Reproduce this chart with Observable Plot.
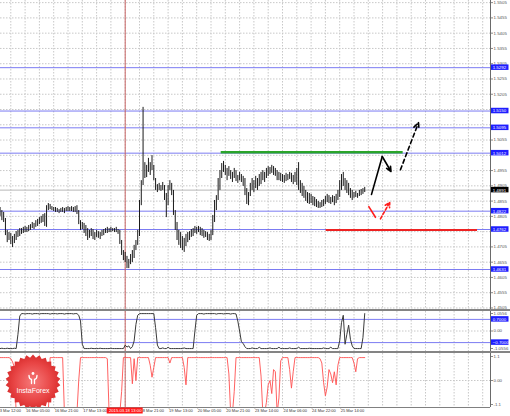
<!DOCTYPE html>
<html><head><meta charset="utf-8">
<script src="https://cdn.jsdelivr.net/npm/d3@7"></script>
<script src="https://cdn.jsdelivr.net/npm/@observablehq/plot@0.6"></script>
<style>
body{margin:0;background:#fff;}
#chart{position:relative;width:510px;height:416px;overflow:hidden;background:#fff;font-family:"Liberation Sans",Arial,sans-serif;}
.sep{position:absolute;left:0;width:510px;height:2px;background:#848484;}
</style></head><body><div id="chart"></div>
<script>
// ---------- DATA ----------
const barStart = 2; // index of first bar (H1 bars, weekends skipped)
const highs = [
1.4834,1.4824,1.4818,1.4798,1.4759,1.4752,1.4749,1.4739,1.4746,1.4755,
1.4759,1.4765,1.4765,1.4769,1.4772,1.4769,1.4775,1.4778,1.4785,1.4782,
1.4791,1.4795,1.4801,1.4805,1.4811,1.4814,1.4840,1.4847,1.4844,1.4837,
1.4834,1.4834,1.4831,1.4827,1.4831,1.4834,1.4831,1.4834,1.4837,1.4834,
1.4837,1.4834,1.4837,1.4840,1.4824,1.4791,1.4785,1.4782,1.4775,1.4765,
1.4759,1.4765,1.4762,1.4752,1.4759,1.4755,1.4752,1.4759,1.4762,1.4765,
1.4769,1.4765,1.4769,1.4765,1.4765,1.4769,1.4762,1.4759,1.4726,1.4693,
1.4687,1.4674,1.4664,1.4680,1.4693,1.4710,1.4726,1.4759,1.4857,1.4922,
1.5162,1.4981,1.4972,1.4995,1.4981,1.5004,1.4972,1.4929,1.4909,1.4913,
1.4906,1.4916,1.4906,1.4880,1.4906,1.4922,1.4913,1.4890,1.4824,1.4785,
1.4759,1.4752,1.4739,1.4733,1.4746,1.4752,1.4755,1.4762,1.4765,1.4772,
1.4769,1.4772,1.4769,1.4765,1.4759,1.4755,1.4752,1.4746,1.4759,1.4808,
1.4857,1.4873,1.4929,1.4955,1.4978,1.4985,1.4972,1.4962,1.4968,1.4955,
1.4949,1.4962,1.4955,1.4939,1.4949,1.4942,1.4936,1.4929,1.4896,1.4883,
1.4913,1.4929,1.4922,1.4936,1.4929,1.4942,1.4949,1.4955,1.4949,1.4962,
1.4968,1.4965,1.4972,1.4968,1.4962,1.4955,1.4949,1.4946,1.4942,1.4939,
1.4946,1.4942,1.4949,1.4946,1.4939,1.4949,1.4962,1.4981,1.4922,1.4913,
1.4903,1.4890,1.4883,1.4880,1.4877,1.4870,1.4867,1.4860,1.4854,1.4850,
1.4857,1.4860,1.4870,1.4877,1.4873,1.4867,1.4873,1.4870,1.4877,1.4890,
1.4922,1.4942,1.4949,1.4929,1.4922,1.4913,1.4896,1.4890,1.4883,1.4887,
1.4880,1.4890,1.4893,1.4896,1.4900];
const lows = [
1.4805,1.4791,1.4785,1.4742,1.4719,1.4726,1.4713,1.4703,1.4716,1.4726,
1.4736,1.4739,1.4746,1.4749,1.4752,1.4752,1.4755,1.4759,1.4765,1.4762,
1.4769,1.4772,1.4778,1.4782,1.4785,1.4772,1.4769,1.4824,1.4827,1.4824,
1.4821,1.4818,1.4818,1.4814,1.4818,1.4818,1.4814,1.4821,1.4821,1.4821,
1.4821,1.4818,1.4818,1.4811,1.4778,1.4759,1.4762,1.4749,1.4739,1.4726,
1.4733,1.4739,1.4729,1.4726,1.4736,1.4733,1.4729,1.4739,1.4742,1.4749,
1.4749,1.4752,1.4752,1.4755,1.4752,1.4752,1.4746,1.4713,1.4677,1.4660,
1.4654,1.4634,1.4634,1.4647,1.4654,1.4667,1.4693,1.4710,1.4739,1.4840,
1.4906,1.4929,1.4932,1.4949,1.4939,1.4955,1.4922,1.4890,1.4883,1.4890,
1.4887,1.4890,1.4857,1.4801,1.4840,1.4890,1.4873,1.4808,1.4759,1.4726,
1.4710,1.4700,1.4693,1.4687,1.4706,1.4719,1.4726,1.4736,1.4739,1.4749,
1.4746,1.4752,1.4742,1.4739,1.4733,1.4736,1.4726,1.4723,1.4726,1.4742,
1.4785,1.4824,1.4857,1.4890,1.4929,1.4949,1.4939,1.4922,1.4936,1.4926,
1.4916,1.4929,1.4919,1.4913,1.4922,1.4916,1.4903,1.4873,1.4844,1.4840,
1.4870,1.4890,1.4883,1.4896,1.4890,1.4903,1.4909,1.4922,1.4916,1.4929,
1.4936,1.4942,1.4946,1.4939,1.4936,1.4922,1.4922,1.4919,1.4916,1.4913,
1.4919,1.4922,1.4926,1.4916,1.4909,1.4916,1.4906,1.4890,1.4880,1.4870,
1.4864,1.4854,1.4847,1.4844,1.4847,1.4840,1.4837,1.4834,1.4831,1.4831,
1.4834,1.4837,1.4844,1.4850,1.4847,1.4844,1.4850,1.4840,1.4847,1.4857,
1.4867,1.4890,1.4903,1.4890,1.4880,1.4873,1.4864,1.4857,1.4864,1.4867,
1.4864,1.4870,1.4873,1.4877,1.4883];
// upper indicator (black line)
const indicator1 = [
-1.06,-1.04,-1.06,-1.06,-1.04,-1.06,-1.06,-1.06,-1.04,-1.06,
-0.2,0.9,1.05,1.05,1.03,1.05,1.05,1.05,1.02,1.05,
1.05,1.05,1.03,1.05,1.05,1.05,1.05,1.05,1.02,1.05,
1.05,1.05,1.03,1.05,1.05,1.05,1.02,1.05,1.05,1.05,
1.05,1.03,1.05,1.05,0.95,0.6,-0.8,-1.06,-1.06,-1.06,
-1.06,-1.04,-1.06,-1.06,-1.06,-1.06,-1.04,-1.06,-1.06,-1.06,
-1.06,-1.06,-1.04,-1.06,-1.06,-1.06,-1.06,-1.06,-1.06,-1.06,
-0.85,-0.97,-0.9,-1.06,-0.95,-0.6,0.4,0.95,1.05,1.05,
1.05,1.05,1.05,1.05,1.05,1.05,1.05,0.2,-0.85,-1.06,
-1.06,-1.02,-1.06,-1.06,-0.98,-1.06,-1.06,-1.06,-1.06,-1.06,
-1.06,-1.06,-1.06,-1.02,-1.06,-1.06,-1.06,-1.06,-1.06,0,
0.95,1.05,1.05,1.05,1.02,1.05,1.05,1.05,1.05,1.05,
1.05,1.02,1.05,1.05,1.05,1.03,1.05,1.05,1.05,1.02,
1.05,1.05,1.03,0.6,0,-0.65,-0.75,-0.95,-1.06,-1.06,
-1.06,-1.02,-1.06,-1.06,-1.06,-0.98,-1.06,-1.06,-1.06,-1.06,
-1.06,-1.02,-1.06,-1.06,-1.06,-1.06,-0.98,-1.06,-1.06,-1.06,
-1.06,-1.06,-1.02,-1.06,-1.06,-1.06,-1.06,-0.98,-1.06,-1.06,
-1.06,-1.06,-1.06,-1.04,-1.06,-1.06,-1.06,-1.06,-1.06,-1.06,
-1.06,-1.02,-1.06,-1.06,-1.06,-0.98,-1.06,-1.06,-1.06,-1.06,
-0.6,0.5,0.95,-0.8,-0.2,0.35,-0.5,-0.9,-1.06,-1.06,
-1.06,-1.06,-1.06,-0.4,1.05];
// lower indicator (red line)
const indicator2 = [
1.05,1.05,1.05,1.05,1.05,1.05,1.0,0.85,0.6,-1.5,
-1.5,-1.5,-1.5,-1.5,-1.5,-1.5,-1.5,-1.5,-1.5,-1.5,
-1.5,-1.5,-1.5,-1.5,-1.5,-1.5,-1.5,-1.5,1.05,1.05,
1.05,1.05,1.05,1.05,1.05,1.05,-1.5,-1.5,-1.5,-1.5,
-1.5,-1.5,-1.5,-1.5,0,1.05,1.05,1.05,1.05,1.05,
1.05,1.05,1.05,1.05,1.05,1.05,1.05,1.05,1.05,1.05,
1.0,-1.5,-1.5,-1.5,-1.5,-1.5,-1.5,-1.5,-0.5,1.05,
1.05,1.05,1.05,1.05,-0.15,1.0,0,1.05,1.05,1.05,
1.05,1.05,1.05,1.05,0.7,0.15,0.6,1.05,1.05,1.05,
1.05,1.05,1.05,1.05,1.05,0.8,1.05,1.05,1.05,1.05,
1.05,1.05,1.05,0.6,-0.2,1.05,1.05,1.05,1.05,1.05,
1.05,1.05,1.05,1.05,1.05,1.05,1.05,1.05,1.05,1.05,
1.05,1.05,1.05,1.05,1.05,1.05,1.05,1.05,0.3,-1.5,
-1.5,-0.5,1.05,1.05,1.05,1.05,1.05,1.05,1.05,1.05,
1.05,1.05,1.05,1.05,1.05,1.05,0.2,-1.5,-1.5,-1.0,
-0.2,0,-0.6,0.5,0.4,-1.5,-0.8,0.9,1.05,1.05,
1.05,1.05,0.5,-0.35,0.4,1.05,1.05,1.05,1.05,1.05,
1.05,1.05,1.05,1.05,1.05,1.05,1.05,1.05,1.05,1.0,
0.8,-0.1,-0.7,-0.3,0.5,0.3,-0.1,0.4,-0.2,0.7,
1.05,1.05,1.05,1.05,1.05,1.05,1.05,1.05,0.8,0.4,
1.0,1.05,1.05,1.05,1.05];

const levelPrices = [1.5292, 1.5150, 1.5095, 1.5012, 1.4822, 1.4762, 1.4631];
const currentPrice = 1.4891;
const greenLevelBars = [125.7, 227.5];
const greenLevelPrice = 1.5015;
const redLevelBars = [184.4, 269.1];
const redLevelPrice = 1.4760;
const priceTicks = [1.5505,1.5455,1.5405,1.5355,1.5305,1.5255,1.5205,1.5155,1.5105,1.5055,1.5005,
  1.4955,1.4905,1.4855,1.4805,1.4755,1.4705,1.4655,1.4605,1.4555,1.4505];

const blackSolidBars = [209.8, 215.8, 220.7];
const blackSolidPrices = [1.4877, 1.5001, 1.4952];
const blackDashBars = [226.0, 236.1];
const blackDashPrices = [1.4958, 1.5112];
const redSolidBars = [208.3, 212.0];
const redSolidPrices = [1.4837, 1.4802];
const redDashBars = [214.8, 220.0];
const redDashPrices = [1.4797, 1.4851];

const ind1Levels = [0.7, -0.7];
const ind1Ticks = [1.0556, 0, -1.0556];
const ind1TickLabels = ["1.0556", "0.00", "-1.0556"];
const ind2Ticks = [1.1, 0, -1.1];
const ind2TickLabels = ["1.1", "0.00", "-1.1"];

const timeTickBars = [0,16,32,48,64,80,96,112,128,144,160,176,192];
const timeTickLabels = ["13 Mar 12:00","16 Mar 05:00","16 Mar 21:00","17 Mar 13:00","18 Mar 05:00",
  "18 Mar 21:00","19 Mar 13:00","20 Mar 05:00","20 Mar 21:00","23 Mar 14:00","24 Mar 06:00",
  "24 Mar 22:00","25 Mar 14:00"];
const crosshairBar = 72;
const crosshairLabel = "2015.03.18 13:00";

// ---------- LAYOUT ----------
const pxPerBar = 1.7875;
const xDomain = [4 / pxPerBar, 494 / pxPerBar];
const xEnd = xDomain[1];
const boxX1 = xEnd + 1 / pxPerBar, boxX2 = xEnd + 18.5 / pxPerBar, boxTx = xEnd + 2.2 / pxPerBar;
const priceDomain = [1.4500, 1.5512];
const pxPerPrice = 309 / (priceDomain[1] - priceDomain[0]);
const ind1Domain = [-1.2366, 1.1763];
const ind2Domain = [-1.2375, 1.2375];
const gridBars = d3.range(0, 280, 8);
const FONT = '"Liberation Sans", Arial, sans-serif';
const GRID = {stroke: "#c8c8c8", strokeDasharray: "1.5,1.5"};
const AXISLINE = "#6a6a6a";
const BLUE = "#7b7bf2";
const CROSS = "#c86464";

// price tick labels that are hidden behind a value box in the reference
const boxedPrices = levelPrices.concat([currentPrice]);
const shownPriceTicks = priceTicks.filter(t => boxedPrices.every(b => Math.abs(b - t) * pxPerPrice > 3.5));
// time tick labels hidden behind the crosshair time box
const shownTimeTicks = timeTickBars.filter(b => Math.abs(b - crosshairBar) * pxPerBar > 14);

const bars = highs.map((h, k) => ({bar: barStart + k, high: h, low: lows[k]}));
const ind1 = indicator1.map((v, k) => ({bar: barStart + k, v}));
const ind2 = indicator2.map((v, k) => ({bar: barStart + k, v}));
const pts = (bs, ps) => bs.map((b, k) => ({bar: b, price: ps[k]}));
const seg = (bs, ps, a, b) => ({x1: bs[a], y1: ps[a], x2: bs[b], y2: ps[b]});

const chart = document.getElementById("chart");
function place(el, top) { el.style.position = "absolute"; el.style.left = "0px"; el.style.top = top + "px"; chart.appendChild(el); }
const base = {width: 510, marginLeft: 0, marginRight: 20, marginTop: 0,
  style: {fontFamily: FONT, background: "transparent", color: "#555"},
  x: {domain: xDomain, axis: null, label: null}};
function valueBoxes(values, half, fill, fmt, fs) {
  return [
    Plot.rect(values, {x1: boxX1, x2: boxX2, y1: d => d - half, y2: d => d + half, fill}),
    Plot.text(values, {x: boxTx, y: d => d, text: fmt, textAnchor: "start", fill: "white", fontSize: fs})
  ];
}

// ---------- MAIN PRICE PANEL ----------
const fmt4 = d3.format(".4f");
const main = Plot.plot({
  ...base, height: 309, marginBottom: 0,
  y: {domain: priceDomain, label: null},
  marks: [
    Plot.ruleY(priceTicks, GRID),
    Plot.ruleX(gridBars, GRID),
    Plot.ruleY([currentPrice], {stroke: "#b8b8b8"}),
    Plot.ruleY(levelPrices, {stroke: BLUE}),
    Plot.ruleY([greenLevelPrice], {x1: greenLevelBars[0], x2: greenLevelBars[1], stroke: "#2aa52a", strokeWidth: 2.5}),
    Plot.ruleY([redLevelPrice], {x1: redLevelBars[0], x2: redLevelBars[1], stroke: "#ee2222", strokeWidth: 2}),
    Plot.ruleX([crosshairBar], {stroke: CROSS}),
    Plot.ruleX(bars, {x: "bar", y1: "low", y2: "high", stroke: "#1a1a1a", strokeWidth: 1}),
    Plot.line(pts(blackSolidBars.slice(0, 2), blackSolidPrices.slice(0, 2)), {x: "bar", y: "price", stroke: "#000", strokeWidth: 1.6}),
    Plot.arrow([seg(blackSolidBars, blackSolidPrices, 1, 2)], {x1: "x1", y1: "y1", x2: "x2", y2: "y2", stroke: "#000", strokeWidth: 1.6, headLength: 5, headAngle: 50}),
    Plot.arrow([seg(blackDashBars, blackDashPrices, 0, 1)], {x1: "x1", y1: "y1", x2: "x2", y2: "y2", stroke: "#000", strokeWidth: 1.6, strokeDasharray: "4,3", headLength: 6, headAngle: 50}),
    Plot.line(pts(redSolidBars, redSolidPrices), {x: "bar", y: "price", stroke: "#ff1e1e", strokeWidth: 1.6}),
    Plot.arrow([seg(redDashBars, redDashPrices, 0, 1)], {x1: "x1", y1: "y1", x2: "x2", y2: "y2", stroke: "#ff1e1e", strokeWidth: 1.6, strokeDasharray: "3,2", headLength: 5, headAngle: 55}),
    Plot.ruleX([xEnd], {stroke: AXISLINE}),
    Plot.axisY(shownPriceTicks, {anchor: "right", tickSize: 2, tickPadding: 1, tickFormat: fmt4, fontSize: 4.4, fill: "#555", stroke: "#888"}),
    ...valueBoxes(levelPrices, 0.0009, "#1e1eff", fmt4, 4.4),
    ...valueBoxes([currentPrice], 0.0009, "#000", fmt4, 4.4)
  ]
});
place(main, 0);

const sep1 = document.createElement("div"); sep1.className = "sep"; place(sep1, 309);

// ---------- INDICATOR 1 ----------
const p1 = Plot.plot({
  ...base, height: 40, marginBottom: 0,
  y: {domain: ind1Domain, label: null},
  marks: [
    Plot.ruleX(gridBars, GRID),
    Plot.ruleY([0], GRID),
    Plot.ruleY(ind1Levels, {stroke: BLUE}),
    Plot.ruleX([crosshairBar], {stroke: CROSS}),
    Plot.line(ind1, {x: "bar", y: "v", stroke: "#3a3a3a", strokeWidth: 1}),
    Plot.ruleX([xEnd], {stroke: AXISLINE}),
    Plot.axisY(ind1Ticks, {anchor: "right", tickSize: 2, tickPadding: 1, tickFormat: (d) => ind1TickLabels[ind1Ticks.indexOf(d)], fontSize: 4.4, fill: "#555", stroke: "#888"}),
    ...valueBoxes(ind1Levels, 0.166, "#1e1eff", fmt4, 4.4)
  ]
});
place(p1, 311);

const sep2 = document.createElement("div"); sep2.className = "sep"; place(sep2, 351);

// ---------- INDICATOR 2 ----------
const p2 = Plot.plot({
  ...base, height: 63, marginBottom: 9,
  y: {domain: ind2Domain, label: null},
  marks: [
    Plot.ruleX(gridBars, GRID),
    Plot.ruleY([0], GRID),
    Plot.ruleX([crosshairBar], {stroke: CROSS}),
    Plot.line(ind2, {x: "bar", y: "v", stroke: "#ff5050", strokeWidth: 0.9, clip: true}),
    Plot.ruleX([xEnd], {stroke: AXISLINE}),
    Plot.ruleY([ind2Domain[0]], {stroke: "#808080"}),
    Plot.axisY(ind2Ticks, {anchor: "right", tickSize: 2, tickPadding: 1, tickFormat: (d) => ind2TickLabels[ind2Ticks.indexOf(d)], fontSize: 4.4, fill: "#555", stroke: "#888"}),
    Plot.axisX(shownTimeTicks, {anchor: "bottom", tickSize: 1.5, tickPadding: 0.5, textAnchor: "start", dx: 1, tickFormat: (d) => timeTickLabels[timeTickBars.indexOf(d)], fontSize: 4, fill: "#333", stroke: "#888", label: null}),
    Plot.rect([crosshairLabel], {x1: crosshairBar - 18 / pxPerBar, x2: crosshairBar + 18 / pxPerBar, y1: -1.260, y2: -1.535, fill: "#ff1a1a"}),
    Plot.text([crosshairLabel], {x: crosshairBar, y: -1.398, text: d => d, fill: "white", fontSize: 4.2})
  ]
});
place(p2, 353);

// ---------- LOGO (decoration) ----------
const logo = d3.create("svg").attr("width", 510).attr("height", 407)
  .style("position", "absolute").style("left", "0px").style("top", "0px").style("pointer-events", "none");
const grad = logo.append("defs").append("radialGradient").attr("id", "lg");
grad.append("stop").attr("offset", "0%").attr("stop-color", "#f67a7a");
grad.append("stop").attr("offset", "70%").attr("stop-color", "#e84444");
grad.append("stop").attr("offset", "100%").attr("stop-color", "#d92e2e");
const cx = 33, cy = 382, nSp = 26;
const star = d3.range(nSp * 2).map(k => {
  const r = k % 2 ? 24.5 : 27.5, a = Math.PI * k / nSp;
  return [cx + r * Math.sin(a), cy - r * Math.cos(a)];
});
logo.append("polygon").attr("points", star.map(p => p.join(",")).join(" ")).attr("fill", "url(#lg)");
const ic = logo.append("g").attr("fill", "none").attr("stroke", "white").attr("stroke-width", 1.3).attr("stroke-linecap", "round");
ic.append("circle").attr("cx", cx).attr("cy", 373.5).attr("r", 1.4).attr("fill", "white").attr("stroke", "none");
ic.append("path").attr("d", `M${cx-4},375.5 Q${cx-4},379 ${cx-1.5},379.5 L${cx-1.5},383.5 M${cx+4},375.5 Q${cx+4},379 ${cx+1.5},379.5 L${cx+1.5},383.5`);
logo.append("text").attr("x", cx).attr("y", 393).attr("text-anchor", "middle").attr("fill", "white")
  .attr("font-family", FONT).attr("font-size", 7).text("InstaForex");
chart.appendChild(logo.node());
</script></body></html>
